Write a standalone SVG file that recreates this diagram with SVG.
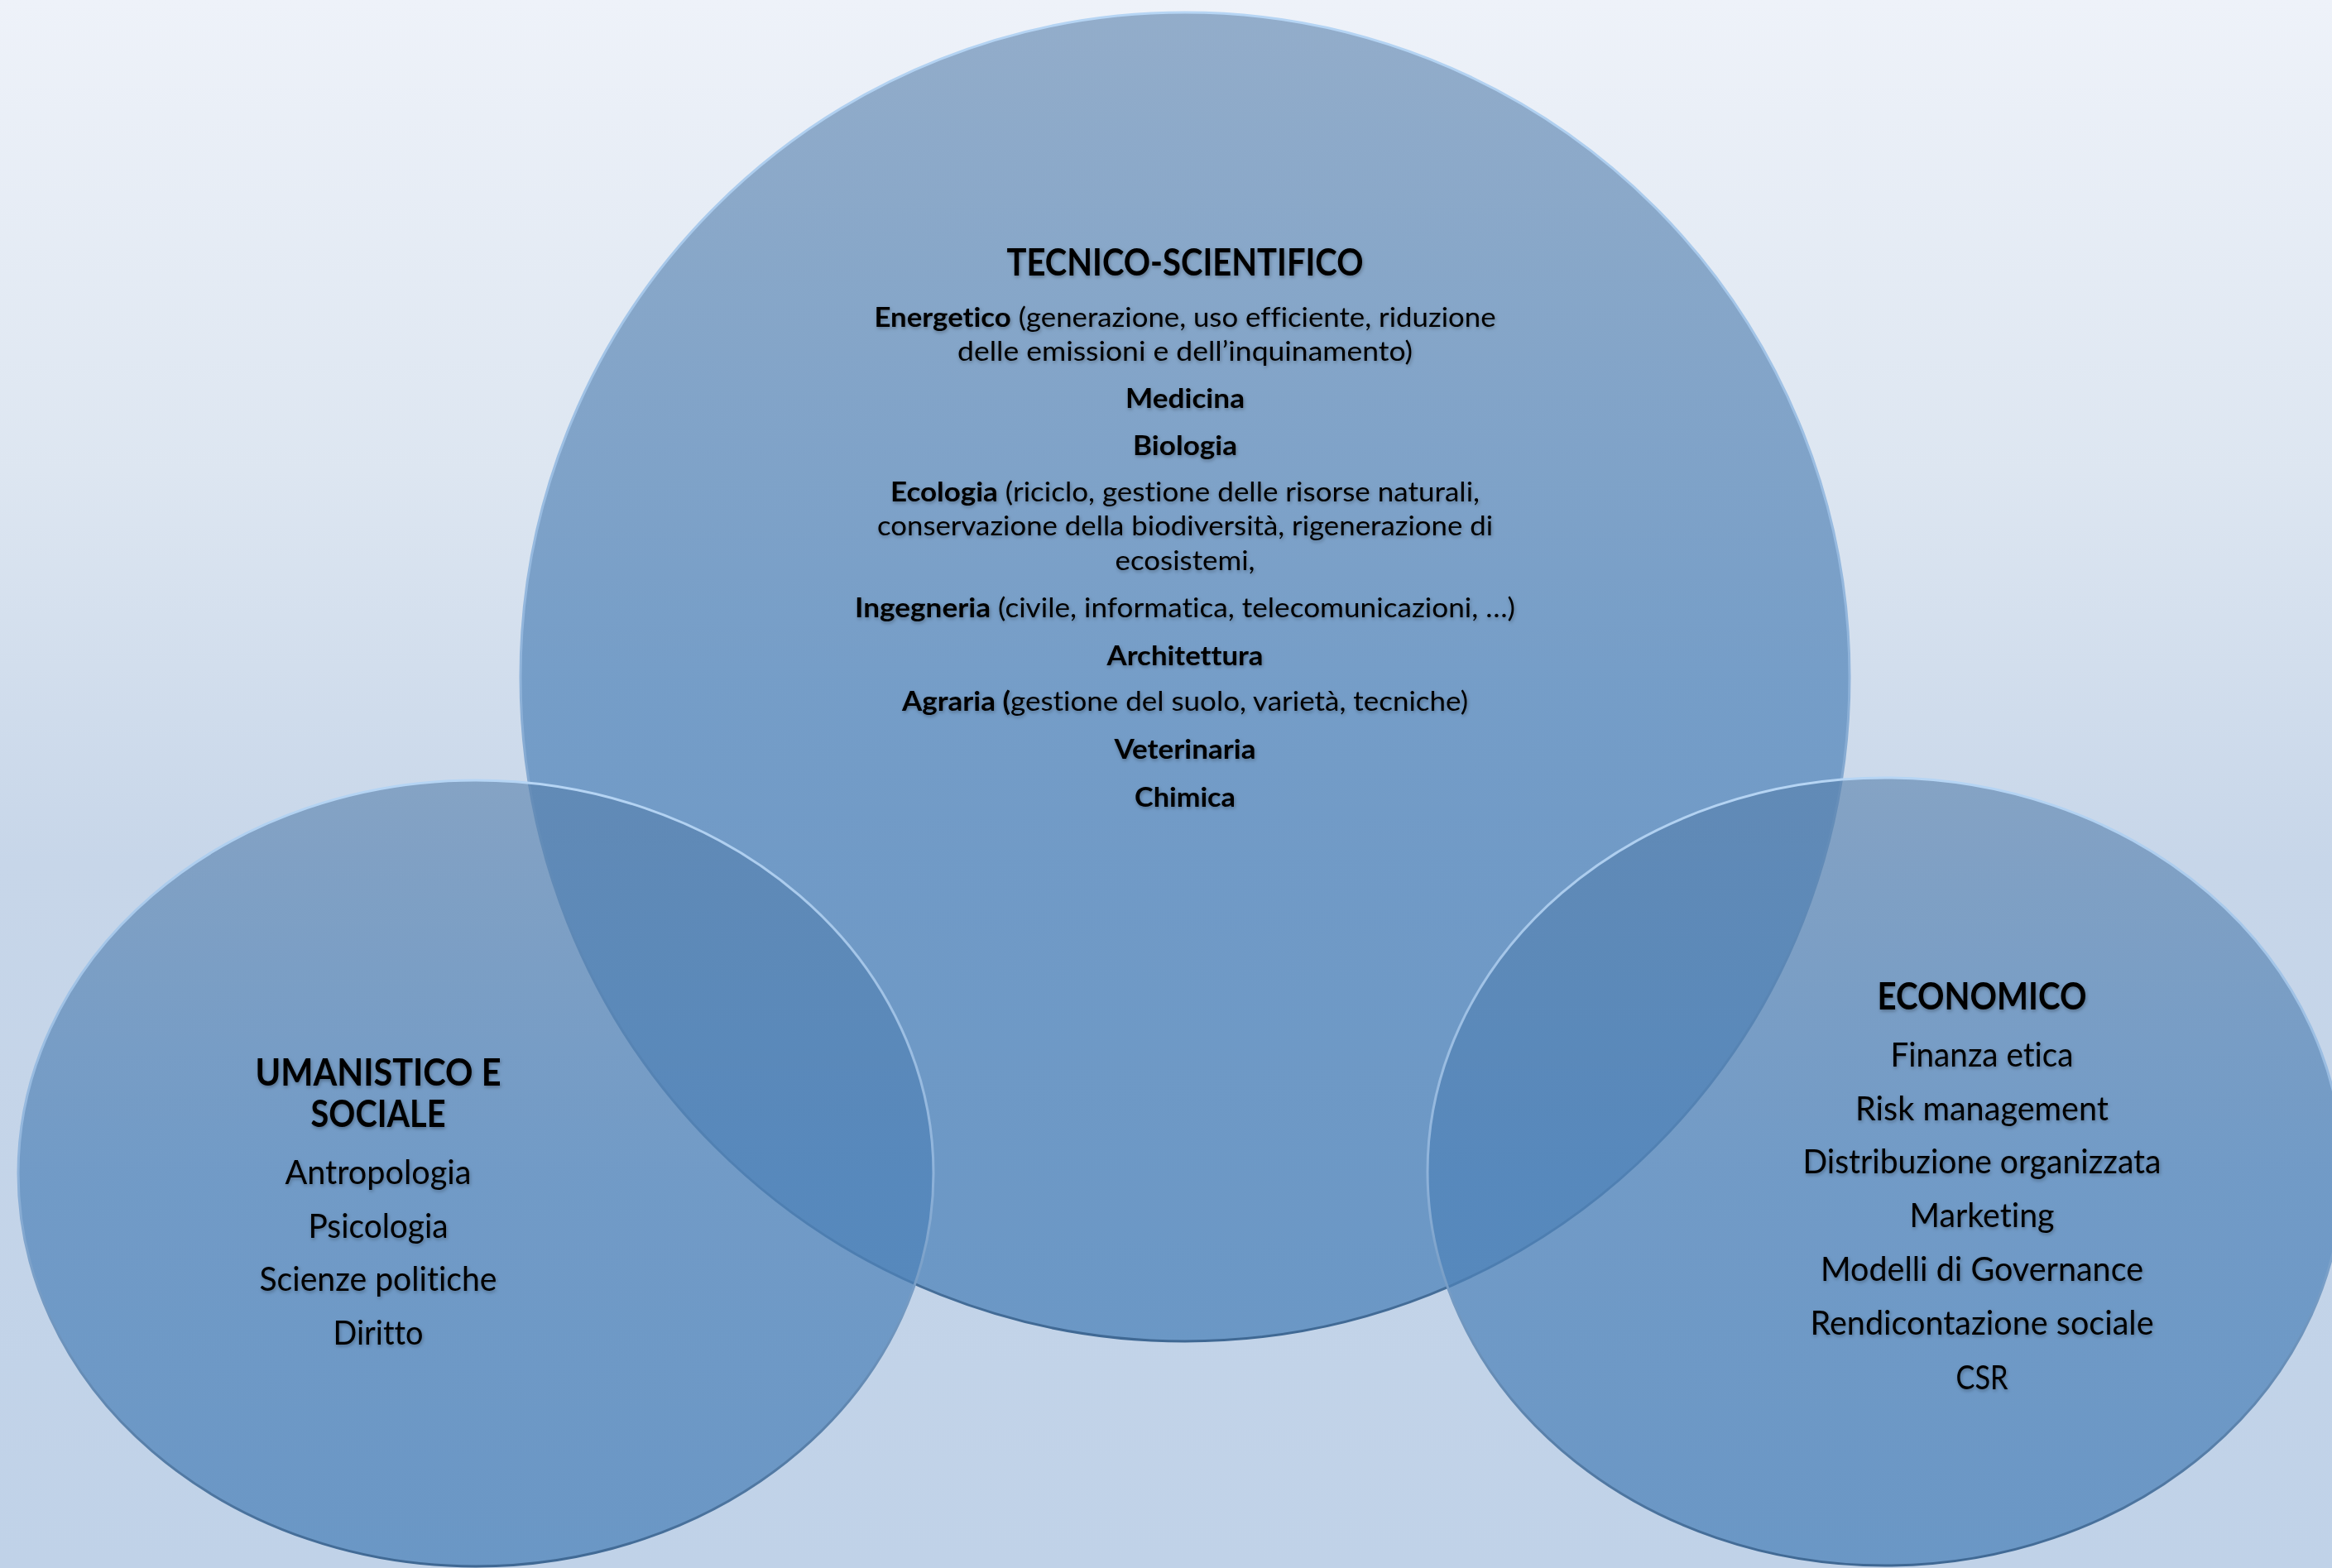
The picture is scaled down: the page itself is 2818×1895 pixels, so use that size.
<svg xmlns="http://www.w3.org/2000/svg" width="2818" height="1895" viewBox="0 0 2818 1895">
<defs>
<linearGradient id="bg" x1="0" y1="0" x2="0" y2="1">
<stop offset="0" stop-color="#EEF2F9"/>
<stop offset="0.3" stop-color="#DDE6F1"/>
<stop offset="0.55" stop-color="#C7D6E9"/>
<stop offset="1" stop-color="#C0D2E8"/>
</linearGradient>
<linearGradient id="fillG" x1="0" y1="0" x2="0" y2="1">
<stop offset="0" stop-color="#567FAB" stop-opacity="0.6"/>
<stop offset="0.5" stop-color="#4E82B8" stop-opacity="0.7"/>
<stop offset="1" stop-color="#4C82B9" stop-opacity="0.74"/>
</linearGradient>
<linearGradient id="edgeG" x1="0" y1="0" x2="0" y2="1">
<stop offset="0" stop-color="#B6D5F4"/>
<stop offset="0.5" stop-color="#8FB3DA"/>
<stop offset="1" stop-color="#3F6893"/>
</linearGradient>
<filter id="ts" x="-10%" y="-30%" width="120%" height="160%">
<feDropShadow dx="1" dy="2" stdDeviation="2" flood-color="#000" flood-opacity="0.3"/>
</filter>
</defs>
<style>
.shape{fill:url(#fillG);stroke:url(#edgeG);stroke-width:3}
text{font-family:Lato,"Open Sans","Liberation Sans",sans-serif;fill:#000;text-anchor:middle;filter:url(#ts);font-variant-ligatures:none}
.t{font-weight:bold;font-size:46px}
.c{font-size:33px}
.cb{font-size:33px;font-weight:bold}
.b{font-weight:bold}
.s{font-size:40px}
</style>
<rect x="0" y="0" width="2818" height="1895" fill="url(#bg)"/>
<g id="connectors"/>
<g id="node-tecnico">
<circle class="shape" cx="1432" cy="818" r="803"/>
<text class="t" x="1432" y="333" textLength="431" lengthAdjust="spacingAndGlyphs">TECNICO-SCIENTIFICO</text>
<text class="c" x="1432" y="395" textLength="751" lengthAdjust="spacingAndGlyphs"><tspan class="b">Energetico</tspan> (generazione, uso efficiente, riduzione</text>
<text class="c" x="1432" y="436" textLength="550" lengthAdjust="spacingAndGlyphs">delle emissioni e dell’inquinamento)</text>
<text class="cb" x="1432" y="493" textLength="144" lengthAdjust="spacingAndGlyphs">Medicina</text>
<text class="cb" x="1432" y="550" textLength="126" lengthAdjust="spacingAndGlyphs">Biologia</text>
<text class="c" x="1432" y="606" textLength="712" lengthAdjust="spacingAndGlyphs"><tspan class="b">Ecologia</tspan> (riciclo, gestione delle risorse naturali,</text>
<text class="c" x="1432" y="647" textLength="744" lengthAdjust="spacingAndGlyphs">conservazione della biodiversità, rigenerazione di</text>
<text class="c" x="1432" y="689" textLength="169" lengthAdjust="spacingAndGlyphs">ecosistemi,</text>
<text class="c" x="1432" y="746" textLength="798" lengthAdjust="spacingAndGlyphs"><tspan class="b">Ingegneria</tspan> (civile, informatica, telecomunicazioni, …)</text>
<text class="cb" x="1432" y="804" textLength="189" lengthAdjust="spacingAndGlyphs">Architettura</text>
<text class="c" x="1432" y="859" textLength="684" lengthAdjust="spacingAndGlyphs"><tspan class="b">Agraria (</tspan>gestione del suolo, varietà, tecniche)</text>
<text class="cb" x="1432" y="917" textLength="171" lengthAdjust="spacingAndGlyphs">Veterinaria</text>
<text class="cb" x="1432" y="975" textLength="122" lengthAdjust="spacingAndGlyphs">Chimica</text>
</g>
<g id="node-umanistico">
<ellipse class="shape" cx="575" cy="1418" rx="553" ry="475"/>
<text class="t" x="457" y="1312" textLength="297" lengthAdjust="spacingAndGlyphs">UMANISTICO E</text>
<text class="t" x="457" y="1362" textLength="163" lengthAdjust="spacingAndGlyphs">SOCIALE</text>
<text class="s" x="457" y="1431" textLength="225" lengthAdjust="spacingAndGlyphs">Antropologia</text>
<text class="s" x="457" y="1496" textLength="169" lengthAdjust="spacingAndGlyphs">Psicologia</text>
<text class="s" x="457" y="1560" textLength="287" lengthAdjust="spacingAndGlyphs">Scienze politiche</text>
<text class="s" x="457" y="1625" textLength="109" lengthAdjust="spacingAndGlyphs">Diritto</text>
</g>
<g id="node-economico">
<ellipse class="shape" cx="2278" cy="1416" rx="553" ry="476"/>
<text class="t" x="2395" y="1220" textLength="253" lengthAdjust="spacingAndGlyphs">ECONOMICO</text>
<text class="s" x="2395" y="1289" textLength="221" lengthAdjust="spacingAndGlyphs">Finanza etica</text>
<text class="s" x="2395" y="1354" textLength="306" lengthAdjust="spacingAndGlyphs">Risk management</text>
<text class="s" x="2395" y="1418" textLength="433" lengthAdjust="spacingAndGlyphs">Distribuzione organizzata</text>
<text class="s" x="2395" y="1483" textLength="175" lengthAdjust="spacingAndGlyphs">Marketing</text>
<text class="s" x="2395" y="1548" textLength="390" lengthAdjust="spacingAndGlyphs">Modelli di Governance</text>
<text class="s" x="2395" y="1613" textLength="415" lengthAdjust="spacingAndGlyphs">Rendicontazione sociale</text>
<text class="s" x="2395" y="1679" textLength="63" lengthAdjust="spacingAndGlyphs">CSR</text>
</g>
</svg>
